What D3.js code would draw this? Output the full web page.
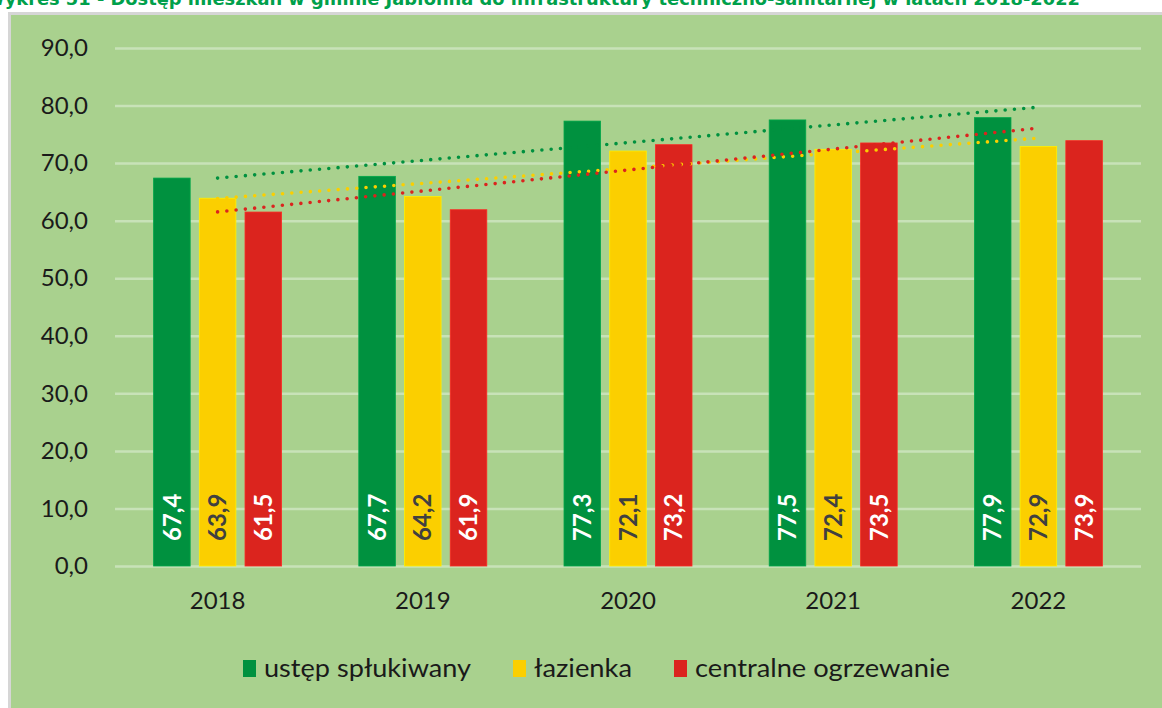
<!DOCTYPE html>
<html>
<head>
<meta charset="utf-8">
<script src="https://cdn.jsdelivr.net/npm/d3@7"></script>
<style>
  html, body { margin: 0; padding: 0; background: #ffffff; }
  svg { display: block; }
</style>
</head>
<body>
<svg id="chart" width="1162" height="708"></svg>
<script>
// Dostęp mieszkań do infrastruktury techniczno-sanitarnej (%), 2018-2022
const years = ["2018", "2019", "2020", "2021", "2022"];
const seriesNames = ["ustęp spłukiwany", "łazienka", "centralne ogrzewanie"];
const ustep = [67.4, 67.7, 77.3, 77.5, 77.9];
const lazienka = [63.9, 64.2, 72.1, 72.4, 72.9];
const ogrzewanie = [61.5, 61.9, 73.2, 73.5, 73.9];
const yTicks = [0, 10, 20, 30, 40, 50, 60, 70, 80, 90];
const titleText = "Wykres 51 - Dostęp mieszkań w gminie Jabłonna do infrastruktury techniczno-sanitarnej w latach 2018-2022";

const seriesValues = [ustep, lazienka, ogrzewanie];
const colors = ["#00913f", "#fbcf00", "#db241e"];
const labelColors = ["#ffffff", "#404040", "#ffffff"];
const fmt = v => v.toFixed(1).replace(".", ",");

const svg = d3.select("#chart");
const W = 1162, H = 708;
const font = "Lato, 'Open Sans', sans-serif";

// Title (runs off the top edge of the page)
svg.append("text")
  .attr("x", -15).attr("y", 5)
  .attr("textLength", 1095).attr("lengthAdjust", "spacingAndGlyphs")
  .attr("fill", "#00a04b")
  .attr("font-family", "Tahoma, 'DejaVu Sans', sans-serif")
  .attr("font-weight", "bold")
  .attr("font-size", 17)
  .text(titleText);

// Chart frame
svg.append("rect").attr("x", 8).attr("y", 12).attr("width", W).attr("height", H)
  .attr("fill", "#d6d6d6");
svg.append("rect").attr("x", 11).attr("y", 15).attr("width", W).attr("height", H)
  .attr("fill", "#a9d18e");

const plot = { left: 115, right: 1141, top: 48, bottom: 566 };

const x = d3.scaleBand().domain(years).range([plot.left, plot.right]).padding(0);
const y = d3.scaleLinear().domain([0, 90]).range([plot.bottom, plot.top]);
const xs = d3.scaleBand().domain(d3.range(seriesNames.length))
  .range([-64, 64]).paddingInner(0.2).paddingOuter(0);

// Gridlines and value axis
const yAxis = d3.axisLeft(y).tickValues(yTicks)
  .tickSize(-(plot.right - plot.left)).tickPadding(27).tickFormat(fmt);
const gy = svg.append("g").attr("transform", `translate(${plot.left},0)`).call(yAxis);
gy.select(".domain").remove();
gy.selectAll(".tick line").attr("stroke", "#c8e2b8").attr("stroke-width", 2.5);
gy.selectAll(".tick text").attr("fill", "#1a1a1a")
  .attr("font-family", font).attr("font-size", 24);

// Category axis labels
const xAxis = d3.axisBottom(x).tickSize(0).tickPadding(26);
const gx = svg.append("g").attr("transform", `translate(0,${plot.bottom})`).call(xAxis);
gx.select(".domain").remove();
gx.selectAll(".tick text").attr("fill", "#1a1a1a")
  .attr("font-family", font).attr("font-size", 24);

// Bars
seriesValues.forEach((vals, s) => {
  const g = svg.append("g");
  g.selectAll("rect").data(vals).join("rect")
    .attr("x", (d, i) => x(years[i]) + x.bandwidth() / 2 + xs(s))
    .attr("y", d => y(d))
    .attr("width", xs.bandwidth())
    .attr("height", d => y(0) - y(d))
    .attr("fill", colors[s])
    .attr("stroke", d3.color(colors[s]).brighter(0.4))
    .attr("stroke-width", 0.8);
  g.selectAll("text").data(vals).join("text")
    .attr("transform", (d, i) => {
      const cx = x(years[i]) + x.bandwidth() / 2 + xs(s) + xs.bandwidth() / 2;
      return `translate(${cx},${y(0) - 25}) rotate(-90)`;
    })
    .attr("dy", "0.36em")
    .attr("fill", labelColors[s])
    .attr("font-family", font).attr("font-weight", "bold").attr("font-size", 24)
    .text(d => fmt(d));
});

// Linear trendlines (least squares over category index 1..5)
seriesValues.forEach((vals, s) => {
  const n = vals.length;
  const xsIdx = d3.range(1, n + 1);
  const mx = d3.mean(xsIdx), my = d3.mean(vals);
  const slope = d3.sum(xsIdx, (k, i) => (k - mx) * (vals[i] - my)) /
                d3.sum(xsIdx, k => (k - mx) * (k - mx));
  const icpt = my - slope * mx;
  const pts = [1, n].map(k => [x(years[k - 1]) + x.bandwidth() / 2, y(icpt + slope * k)]);
  svg.append("path")
    .attr("d", d3.line()(pts))
    .attr("fill", "none")
    .attr("stroke", colors[s])
    .attr("stroke-width", 3.6)
    .attr("stroke-linecap", "round")
    .attr("stroke-dasharray", "0 9.3");
});

// Legend
const legendX = [243, 513, 674];
const legendTextW = [207, 98, 255];
const lg = svg.append("g");
seriesNames.forEach((name, s) => {
  lg.append("rect").attr("x", legendX[s]).attr("y", 660)
    .attr("width", 13).attr("height", 17).attr("fill", colors[s]);
  lg.append("text").attr("x", legendX[s] + 21).attr("y", 668).attr("dy", "0.35em")
    .attr("fill", "#1a1a1a").attr("font-family", font).attr("font-size", 25)
    .attr("textLength", legendTextW[s]).attr("lengthAdjust", "spacingAndGlyphs")
    .text(name);
});
</script>
</body>
</html>
